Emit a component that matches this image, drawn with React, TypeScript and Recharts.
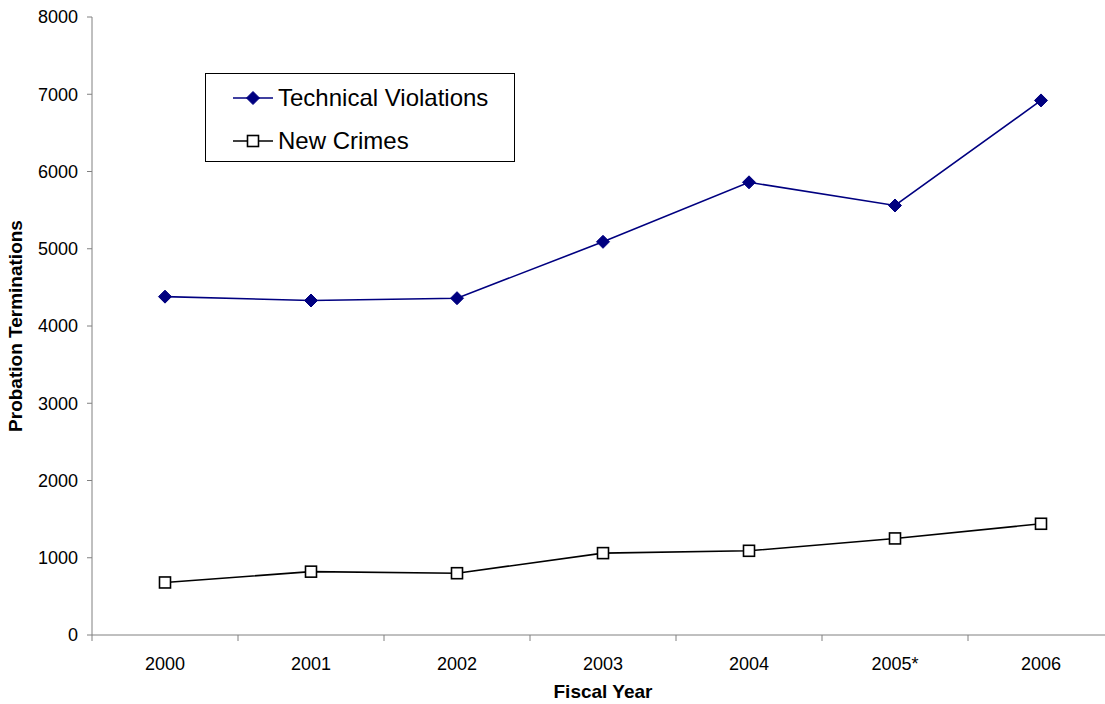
import React from "react";
import { LineChart, Line, XAxis, YAxis, Legend } from "recharts";

const years = ["2000", "2001", "2002", "2003", "2004", "2005*", "2006"];
const technicalViolations = [4380, 4330, 4360, 5090, 5860, 5560, 6920];
const newCrimes = [680, 820, 800, 1060, 1090, 1250, 1440];
const yTicks = [0, 1000, 2000, 3000, 4000, 5000, 6000, 7000, 8000];

const NAVY = "#000080";
const AXIS = "#808080";
const FONT = '"Liberation Sans", Arial, sans-serif';

const data = years.map((year, i) => ({
  pos: i + 0.5,
  year,
  technical: technicalViolations[i],
  crimes: newCrimes[i],
}));

// boundaries get a tick mark, band centres get the year label
const xTicks: number[] = [];
for (let i = 0; i <= years.length * 2; i++) xTicks.push(i / 2);

function XTick({ x, y, payload }: any) {
  const v = payload.value as number;
  if (Number.isInteger(v)) {
    return <line x1={x} y1={y} x2={x} y2={y + 6} stroke={AXIS} strokeWidth={1} />;
  }
  return (
    <text x={x} y={y + 35} textAnchor="middle" fontSize={18} fontFamily={FONT} fill="#000">
      {years[Math.floor(v)]}
    </text>
  );
}

function Diamond({ cx, cy, size = 6.5 }: any) {
  if (cx == null || cy == null) return null;
  return (
    <polygon
      points={`${cx},${cy - size} ${cx + size},${cy} ${cx},${cy + size} ${cx - size},${cy}`}
      fill={NAVY}
      stroke={NAVY}
    />
  );
}

function Square({ cx, cy, size = 5.5 }: any) {
  if (cx == null || cy == null) return null;
  return (
    <rect
      x={cx - size}
      y={cy - size}
      width={size * 2}
      height={size * 2}
      fill="#fff"
      stroke="#000"
      strokeWidth={1.6}
    />
  );
}

function LegendBox() {
  const row = (label: string, color: string, marker: React.ReactNode, top: number) => (
    <div style={{ position: "absolute", left: 0, top, height: 30, display: "flex", alignItems: "center" }}>
      <svg width={72} height={30}>
        <line x1={27} y1={15} x2={67} y2={15} stroke={color} strokeWidth={1.6} />
        {marker}
      </svg>
      <span style={{ fontSize: 24, fontFamily: FONT, color: "#000", lineHeight: "30px" }}>{label}</span>
    </div>
  );
  return (
    <div
      style={{
        position: "relative",
        width: 310,
        height: 89,
        border: "1px solid #000",
        background: "#fff",
        boxSizing: "border-box",
      }}
    >
      {row("Technical Violations", NAVY, <Diamond cx={47} cy={15} size={6.5} />, 9)}
      {row("New Crimes", "#000", <Square cx={47} cy={15} size={5.5} />, 52)}
    </div>
  );
}

export default function App() {
  return (
    <div
      style={{
        position: "absolute",
        left: 0,
        top: 0,
        width: 1105,
        height: 704,
        overflow: "hidden",
        background: "#fff",
      }}
    >
      <LineChart
        width={1120}
        height={704}
        data={data}
        margin={{ top: 17, right: 6, left: 0, bottom: 0 }}
      >
        <XAxis
          dataKey="pos"
          type="number"
          domain={[0, years.length]}
          ticks={xTicks}
          interval={0}
          tickLine={false}
          tickSize={0}
          tickMargin={0}
          tick={<XTick />}
          stroke={AXIS}
          height={69}
          label={{
            value: "Fiscal Year",
            position: "insideBottom",
            offset: 6,
            style: { fontSize: 19, fontWeight: "bold", fontFamily: FONT, fill: "#000" },
          }}
        />
        <YAxis
          type="number"
          domain={[0, 8000]}
          ticks={yTicks}
          interval={0}
          width={92}
          stroke={AXIS}
          tickSize={5}
          tickMargin={9}
          tick={{ fontSize: 18, fontFamily: FONT, fill: "#000" }}
          label={{
            value: "Probation Terminations",
            angle: -90,
            position: "insideLeft",
            offset: 15,
            style: { fontSize: 19, fontWeight: "bold", fontFamily: FONT, fill: "#000", textAnchor: "middle" },
          }}
        />
        <Legend
          layout="vertical"
          align="center"
          verticalAlign="middle"
          wrapperStyle={{ left: 205, top: 73, width: 310, height: 89 }}
          content={() => <LegendBox />}
        />
        <Line
          dataKey="technical"
          name="Technical Violations"
          stroke={NAVY}
          strokeWidth={1.6}
          dot={<Diamond />}
          activeDot={false}
          isAnimationActive={false}
        />
        <Line
          dataKey="crimes"
          name="New Crimes"
          stroke="#000"
          strokeWidth={1.6}
          dot={<Square />}
          activeDot={false}
          isAnimationActive={false}
        />
      </LineChart>
    </div>
  );
}
